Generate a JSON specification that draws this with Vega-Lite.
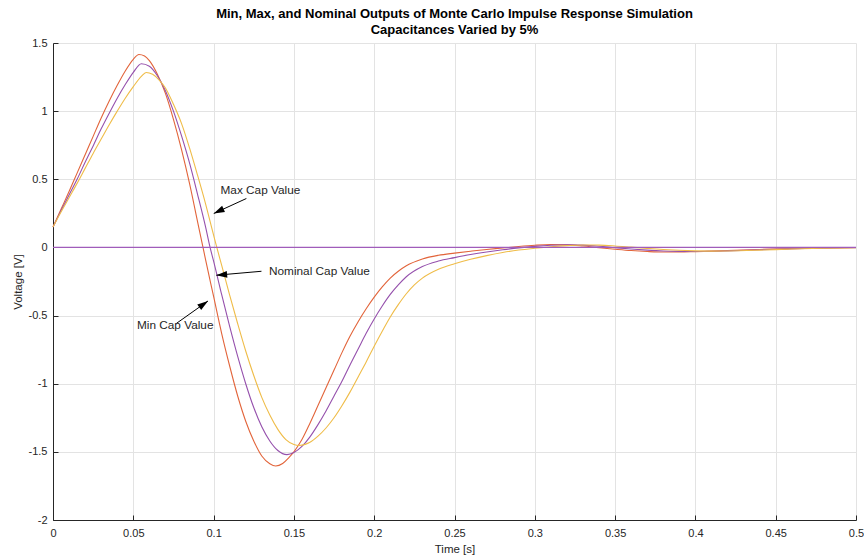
{
  "$schema": "https://vega.github.io/schema/vega-lite/v6.json",
  "width": 803,
  "height": 477,
  "autosize": "none",
  "padding": {"left": 53, "top": 43, "right": 8, "bottom": 40},
  "background": "white",
  "config": {"font": "Liberation Sans", "view": {"stroke": null}},
  "title": {
    "text": ["Min, Max, and Nominal Outputs of Monte Carlo Impulse Response Simulation", "Capacitances Varied by 5%"],
    "fontSize": 13, "fontWeight": "bold", "color": "#000000", "anchor": "middle", "frame": "group", "offset": 0, "lineHeight": 16
  },
  "encoding": {
    "x": {"field": "t", "type": "quantitative",
      "scale": {"domain": [0, 0.5], "nice": false, "zero": false},
      "axis": {"title": "Time [s]", "values": [0, 0.05, 0.1, 0.15, 0.2, 0.25, 0.3, 0.35, 0.4, 0.45, 0.5],
        "labelExpr": "'' + datum.value", "labelFlush": false, "labelOverlap": false,
        "grid": true, "gridColor": "#e3e3e3", "tickSize": -5, "tickColor": "#262626",
        "domainColor": "#262626", "labelColor": "#262626", "labelFontSize": 11, "labelPadding": 12,
        "titleColor": "#262626", "titleFontSize": 11.5, "titleFontWeight": "normal", "titlePadding": 5}},
    "y": {"field": "v", "type": "quantitative",
      "scale": {"domain": [-2, 1.5], "nice": false, "zero": false},
      "axis": {"title": "Voltage [V]", "values": [-2, -1.5, -1, -0.5, 0, 0.5, 1, 1.5],
        "labelExpr": "'' + datum.value", "labelFlush": false, "labelOverlap": false,
        "grid": true, "gridColor": "#e3e3e3", "tickSize": -5, "tickColor": "#262626",
        "domainColor": "#262626", "labelColor": "#262626", "labelFontSize": 11, "labelPadding": 11,
        "titleColor": "#262626", "titleFontSize": 11.5, "titleFontWeight": "normal", "titlePadding": 5}}
  },
  "layer": [
    {
      "data": {"values": [
        {"s": "min", "t": 0, "v": 0.15}, {"s": "min", "t": 0.005, "v": 0.28}, {"s": "min", "t": 0.01, "v": 0.41}, {"s": "min", "t": 0.015, "v": 0.545},
        {"s": "min", "t": 0.02, "v": 0.68}, {"s": "min", "t": 0.025, "v": 0.815}, {"s": "min", "t": 0.03, "v": 0.95}, {"s": "min", "t": 0.035, "v": 1.075},
        {"s": "min", "t": 0.04, "v": 1.19}, {"s": "min", "t": 0.045, "v": 1.295}, {"s": "min", "t": 0.05, "v": 1.38}, {"s": "min", "t": 0.0535, "v": 1.416},
        {"s": "min", "t": 0.057, "v": 1.405}, {"s": "min", "t": 0.06, "v": 1.37}, {"s": "min", "t": 0.065, "v": 1.27}, {"s": "min", "t": 0.07, "v": 1.13},
        {"s": "min", "t": 0.075, "v": 0.94}, {"s": "min", "t": 0.08, "v": 0.72}, {"s": "min", "t": 0.085, "v": 0.47}, {"s": "min", "t": 0.09, "v": 0.19},
        {"s": "min", "t": 0.0934, "v": 0}, {"s": "min", "t": 0.095, "v": -0.09}, {"s": "min", "t": 0.1, "v": -0.36}, {"s": "min", "t": 0.105, "v": -0.63},
        {"s": "min", "t": 0.11, "v": -0.87}, {"s": "min", "t": 0.115, "v": -1.09}, {"s": "min", "t": 0.12, "v": -1.275}, {"s": "min", "t": 0.125, "v": -1.42},
        {"s": "min", "t": 0.13, "v": -1.53}, {"s": "min", "t": 0.135, "v": -1.587}, {"s": "min", "t": 0.1387, "v": -1.604}, {"s": "min", "t": 0.143, "v": -1.585},
        {"s": "min", "t": 0.147, "v": -1.54}, {"s": "min", "t": 0.15, "v": -1.5}, {"s": "min", "t": 0.155, "v": -1.41}, {"s": "min", "t": 0.16, "v": -1.29},
        {"s": "min", "t": 0.165, "v": -1.16}, {"s": "min", "t": 0.17, "v": -1.03}, {"s": "min", "t": 0.175, "v": -0.9}, {"s": "min", "t": 0.18, "v": -0.77},
        {"s": "min", "t": 0.185, "v": -0.65}, {"s": "min", "t": 0.19, "v": -0.545}, {"s": "min", "t": 0.195, "v": -0.45}, {"s": "min", "t": 0.2, "v": -0.365},
        {"s": "min", "t": 0.205, "v": -0.29}, {"s": "min", "t": 0.21, "v": -0.225}, {"s": "min", "t": 0.215, "v": -0.175}, {"s": "min", "t": 0.22, "v": -0.135},
        {"s": "min", "t": 0.23, "v": -0.085}, {"s": "min", "t": 0.24, "v": -0.058}, {"s": "min", "t": 0.25, "v": -0.042}, {"s": "min", "t": 0.26, "v": -0.028},
        {"s": "min", "t": 0.27, "v": -0.015}, {"s": "min", "t": 0.28, "v": -0.004}, {"s": "min", "t": 0.29, "v": 0.007}, {"s": "min", "t": 0.3, "v": 0.016},
        {"s": "min", "t": 0.31, "v": 0.021}, {"s": "min", "t": 0.32, "v": 0.019}, {"s": "min", "t": 0.33, "v": 0.01}, {"s": "min", "t": 0.34, "v": -0.002},
        {"s": "min", "t": 0.35, "v": -0.013}, {"s": "min", "t": 0.36, "v": -0.023}, {"s": "min", "t": 0.37, "v": -0.03}, {"s": "min", "t": 0.38, "v": -0.034},
        {"s": "min", "t": 0.39, "v": -0.034}, {"s": "min", "t": 0.4, "v": -0.031}, {"s": "min", "t": 0.42, "v": -0.023}, {"s": "min", "t": 0.44, "v": -0.015},
        {"s": "min", "t": 0.46, "v": -0.009}, {"s": "min", "t": 0.48, "v": -0.004}, {"s": "min", "t": 0.5, "v": -0.001},

        {"s": "nom", "t": 0, "v": 0.15}, {"s": "nom", "t": 0.005, "v": 0.27}, {"s": "nom", "t": 0.01, "v": 0.385}, {"s": "nom", "t": 0.015, "v": 0.5},
        {"s": "nom", "t": 0.02, "v": 0.625}, {"s": "nom", "t": 0.025, "v": 0.745}, {"s": "nom", "t": 0.03, "v": 0.87}, {"s": "nom", "t": 0.035, "v": 0.985},
        {"s": "nom", "t": 0.04, "v": 1.095}, {"s": "nom", "t": 0.045, "v": 1.195}, {"s": "nom", "t": 0.05, "v": 1.285}, {"s": "nom", "t": 0.055, "v": 1.348},
        {"s": "nom", "t": 0.06, "v": 1.33}, {"s": "nom", "t": 0.065, "v": 1.26}, {"s": "nom", "t": 0.07, "v": 1.15}, {"s": "nom", "t": 0.075, "v": 1.0},
        {"s": "nom", "t": 0.08, "v": 0.82}, {"s": "nom", "t": 0.085, "v": 0.62}, {"s": "nom", "t": 0.09, "v": 0.39}, {"s": "nom", "t": 0.095, "v": 0.15},
        {"s": "nom", "t": 0.0978, "v": 0}, {"s": "nom", "t": 0.1, "v": -0.1}, {"s": "nom", "t": 0.105, "v": -0.345}, {"s": "nom", "t": 0.11, "v": -0.58},
        {"s": "nom", "t": 0.115, "v": -0.8}, {"s": "nom", "t": 0.12, "v": -1.0}, {"s": "nom", "t": 0.125, "v": -1.175}, {"s": "nom", "t": 0.13, "v": -1.316},
        {"s": "nom", "t": 0.135, "v": -1.42}, {"s": "nom", "t": 0.14, "v": -1.49}, {"s": "nom", "t": 0.1457, "v": -1.52}, {"s": "nom", "t": 0.15, "v": -1.505},
        {"s": "nom", "t": 0.155, "v": -1.46}, {"s": "nom", "t": 0.16, "v": -1.39}, {"s": "nom", "t": 0.165, "v": -1.3}, {"s": "nom", "t": 0.17, "v": -1.2},
        {"s": "nom", "t": 0.175, "v": -1.09}, {"s": "nom", "t": 0.18, "v": -0.98}, {"s": "nom", "t": 0.185, "v": -0.86}, {"s": "nom", "t": 0.19, "v": -0.745},
        {"s": "nom", "t": 0.195, "v": -0.63}, {"s": "nom", "t": 0.2, "v": -0.525}, {"s": "nom", "t": 0.205, "v": -0.43}, {"s": "nom", "t": 0.21, "v": -0.345},
        {"s": "nom", "t": 0.215, "v": -0.275}, {"s": "nom", "t": 0.22, "v": -0.215}, {"s": "nom", "t": 0.23, "v": -0.14}, {"s": "nom", "t": 0.24, "v": -0.1},
        {"s": "nom", "t": 0.25, "v": -0.075}, {"s": "nom", "t": 0.26, "v": -0.052}, {"s": "nom", "t": 0.27, "v": -0.033}, {"s": "nom", "t": 0.28, "v": -0.017},
        {"s": "nom", "t": 0.29, "v": -0.003}, {"s": "nom", "t": 0.3, "v": 0.008}, {"s": "nom", "t": 0.31, "v": 0.016}, {"s": "nom", "t": 0.32, "v": 0.02},
        {"s": "nom", "t": 0.33, "v": 0.017}, {"s": "nom", "t": 0.34, "v": 0.009}, {"s": "nom", "t": 0.35, "v": -0.002}, {"s": "nom", "t": 0.36, "v": -0.012},
        {"s": "nom", "t": 0.37, "v": -0.02}, {"s": "nom", "t": 0.38, "v": -0.026}, {"s": "nom", "t": 0.39, "v": -0.029}, {"s": "nom", "t": 0.4, "v": -0.03},
        {"s": "nom", "t": 0.41, "v": -0.028}, {"s": "nom", "t": 0.42, "v": -0.025}, {"s": "nom", "t": 0.44, "v": -0.017}, {"s": "nom", "t": 0.46, "v": -0.01},
        {"s": "nom", "t": 0.48, "v": -0.005}, {"s": "nom", "t": 0.5, "v": -0.002},

        {"s": "max", "t": 0, "v": 0.15}, {"s": "max", "t": 0.005, "v": 0.26}, {"s": "max", "t": 0.01, "v": 0.365}, {"s": "max", "t": 0.015, "v": 0.47},
        {"s": "max", "t": 0.02, "v": 0.58}, {"s": "max", "t": 0.025, "v": 0.69}, {"s": "max", "t": 0.03, "v": 0.795}, {"s": "max", "t": 0.035, "v": 0.9},
        {"s": "max", "t": 0.04, "v": 1.0}, {"s": "max", "t": 0.045, "v": 1.095}, {"s": "max", "t": 0.05, "v": 1.18}, {"s": "max", "t": 0.055, "v": 1.255},
        {"s": "max", "t": 0.058, "v": 1.284}, {"s": "max", "t": 0.062, "v": 1.27}, {"s": "max", "t": 0.066, "v": 1.23}, {"s": "max", "t": 0.07, "v": 1.17},
        {"s": "max", "t": 0.075, "v": 1.05}, {"s": "max", "t": 0.08, "v": 0.91}, {"s": "max", "t": 0.085, "v": 0.73}, {"s": "max", "t": 0.09, "v": 0.53},
        {"s": "max", "t": 0.095, "v": 0.32}, {"s": "max", "t": 0.1, "v": 0.09}, {"s": "max", "t": 0.102, "v": 0}, {"s": "max", "t": 0.105, "v": -0.13},
        {"s": "max", "t": 0.11, "v": -0.35}, {"s": "max", "t": 0.115, "v": -0.56}, {"s": "max", "t": 0.12, "v": -0.76}, {"s": "max", "t": 0.125, "v": -0.94},
        {"s": "max", "t": 0.13, "v": -1.1}, {"s": "max", "t": 0.135, "v": -1.23}, {"s": "max", "t": 0.14, "v": -1.335}, {"s": "max", "t": 0.145, "v": -1.41},
        {"s": "max", "t": 0.15, "v": -1.446}, {"s": "max", "t": 0.1532, "v": -1.453}, {"s": "max", "t": 0.157, "v": -1.445}, {"s": "max", "t": 0.16, "v": -1.43},
        {"s": "max", "t": 0.165, "v": -1.385}, {"s": "max", "t": 0.17, "v": -1.325}, {"s": "max", "t": 0.175, "v": -1.25}, {"s": "max", "t": 0.18, "v": -1.16},
        {"s": "max", "t": 0.185, "v": -1.06}, {"s": "max", "t": 0.19, "v": -0.95}, {"s": "max", "t": 0.195, "v": -0.84}, {"s": "max", "t": 0.2, "v": -0.725},
        {"s": "max", "t": 0.205, "v": -0.615}, {"s": "max", "t": 0.21, "v": -0.51}, {"s": "max", "t": 0.215, "v": -0.42}, {"s": "max", "t": 0.22, "v": -0.34},
        {"s": "max", "t": 0.225, "v": -0.275}, {"s": "max", "t": 0.23, "v": -0.225}, {"s": "max", "t": 0.24, "v": -0.16}, {"s": "max", "t": 0.25, "v": -0.12},
        {"s": "max", "t": 0.26, "v": -0.087}, {"s": "max", "t": 0.27, "v": -0.06}, {"s": "max", "t": 0.28, "v": -0.037}, {"s": "max", "t": 0.29, "v": -0.019},
        {"s": "max", "t": 0.3, "v": -0.006}, {"s": "max", "t": 0.31, "v": 0.005}, {"s": "max", "t": 0.32, "v": 0.013}, {"s": "max", "t": 0.33, "v": 0.018},
        {"s": "max", "t": 0.34, "v": 0.017}, {"s": "max", "t": 0.35, "v": 0.011}, {"s": "max", "t": 0.36, "v": 0.002}, {"s": "max", "t": 0.37, "v": -0.007},
        {"s": "max", "t": 0.38, "v": -0.015}, {"s": "max", "t": 0.39, "v": -0.021}, {"s": "max", "t": 0.4, "v": -0.025}, {"s": "max", "t": 0.41, "v": -0.027},
        {"s": "max", "t": 0.42, "v": -0.026}, {"s": "max", "t": 0.44, "v": -0.02}, {"s": "max", "t": 0.46, "v": -0.012}, {"s": "max", "t": 0.48, "v": -0.006},
        {"s": "max", "t": 0.5, "v": -0.002}
      ]},
      "mark": {"type": "line", "strokeWidth": 1.1, "interpolate": "monotone"},
      "encoding": {
        "color": {"field": "s", "type": "nominal", "legend": null,
          "scale": {"domain": ["min", "nom", "max"], "range": ["#E2643A", "#9550AC", "#EFBC48"]}}
      }
    },
    {
      "data": {"values": [{"t": 0, "v": 0}, {"t": 0.5, "v": 0}]},
      "mark": {"type": "line", "color": "#A05CBA", "strokeWidth": 1.3},
      "encoding": {}
    },
    {
      "data": {"values": [
        {"t": 0.1204, "v": 0.359, "t2": 0.1001, "v2": 0.249},
        {"t": 0.1298, "v": -0.175, "t2": 0.1017, "v2": -0.204},
        {"t": 0.0768, "v": -0.558, "t2": 0.0965, "v2": -0.393}
      ]},
      "mark": {"type": "rule", "color": "#000000", "strokeWidth": 1},
      "encoding": {"x2": {"field": "t2"}, "y2": {"field": "v2"}}
    },
    {
      "data": {"values": [
        {"t": 0.1001, "v": 0.249, "ang": 245},
        {"t": 0.1017, "v": -0.204, "ang": 265},
        {"t": 0.0965, "v": -0.393, "ang": 54}
      ]},
      "mark": {"type": "point", "shape": "M0,0L-0.75,2.4L0.75,2.4Z", "filled": true, "color": "#000000", "opacity": 1, "size": 81},
      "encoding": {"angle": {"field": "ang", "type": "quantitative", "scale": null}}
    },
    {
      "data": {"values": [
        {"t": 0.1043, "v": 0.42, "label": "Max Cap Value"},
        {"t": 0.1345, "v": -0.175, "label": "Nominal Cap Value"},
        {"t": 0.0523, "v": -0.571, "label": "Min Cap Value"}
      ]},
      "mark": {"type": "text", "align": "left", "baseline": "middle", "fontSize": 11.8, "color": "#262626"},
      "encoding": {"text": {"field": "label"}}
    }
  ]
}
